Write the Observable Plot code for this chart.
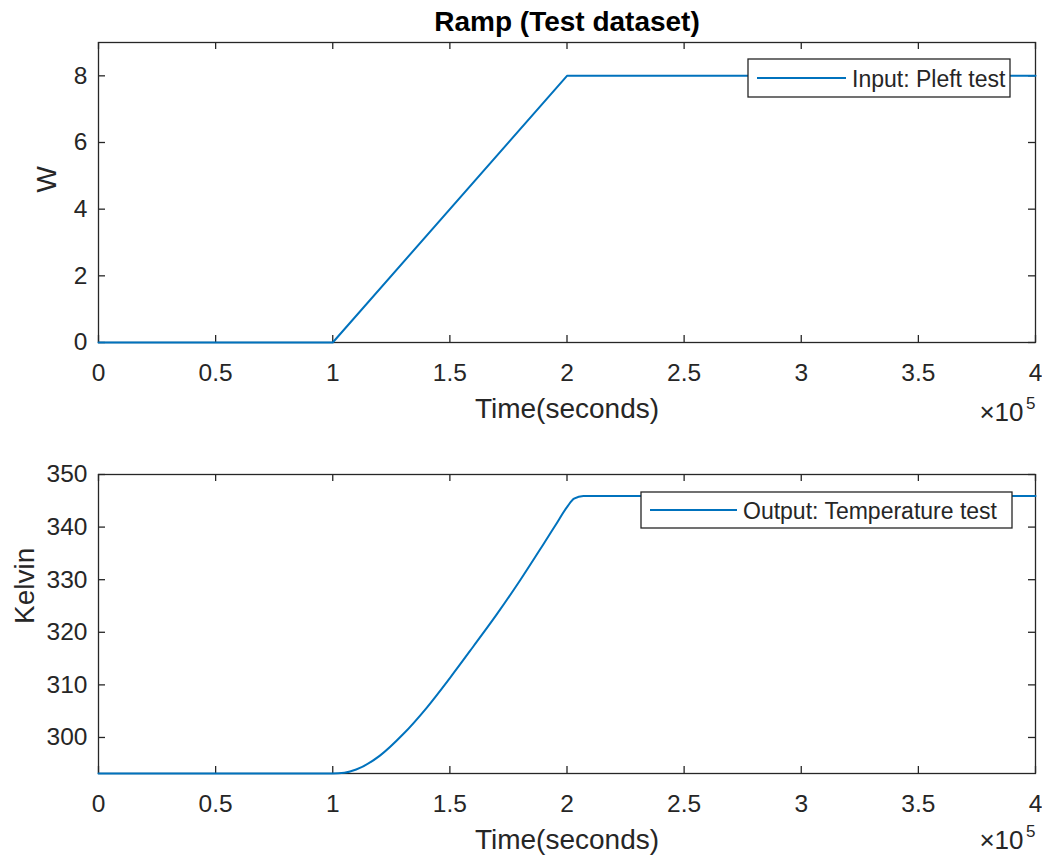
<!DOCTYPE html>
<html>
<head>
<meta charset="utf-8">
<script src="https://cdn.jsdelivr.net/npm/d3@7"></script>
<script src="https://cdn.jsdelivr.net/npm/@observablehq/plot@0.6"></script>
<style>
  body { margin: 0; background: #fff; }
  #fig { width: 1042px; height: 855px; background: #fff; }
  #fig svg { display: block; }
</style>
</head>
<body>
<div id="fig"></div>
<script>
// Shared time axis (seconds)
const timeTicks = [0, 50000, 100000, 150000, 200000, 250000, 300000, 350000, 400000];

// Input: Pleft test (W)
const inputTime = [0, 100000, 200000, 400000];
const inputPower = [0, 0, 8, 8];
const powerTicks = [0, 2, 4, 6, 8];

// Output: Temperature test (K)
const outputTime = [0, 100000, 105000, 110000, 120000, 130000, 140000, 150000, 160000,
                    170000, 180000, 190000, 195000, 200000, 203000, 207000, 400000];
const outputTemp = [293.15, 293.15, 293.3, 293.9, 296.5, 300.6, 305.6, 311.3, 317.3,
                    323.4, 329.9, 336.8, 340.3, 343.8, 345.4, 345.9, 345.9];
const tempTicks = [300, 310, 320, 330, 340, 350];

const ink = "#262626";
const blue = "#0072BD";
const font = "'Liberation Sans', Arial, Helvetica, sans-serif";
const W = 1042, ML = 98, MR = 7;

function panel({time, values, yDomain, yTicks, yLabel, yLabelDx, height, marginTop, marginBottom,
                title, legend, curve, expDy}) {
  const innerH = height - marginTop - marginBottom;
  const innerW = W - ML - MR;
  const data = time.map((t, i) => ({t, v: values[i]}));
  const marks = [
    Plot.frame({stroke: ink, strokeWidth: 1.3}),
    // inward ticks on all four sides
    Plot.tickX(timeTicks, {x: d => d, insetTop: innerH - 7, stroke: ink, strokeWidth: 1.3}),
    Plot.tickX(timeTicks, {x: d => d, insetBottom: innerH - 7, stroke: ink, strokeWidth: 1.3}),
    Plot.tickY(yTicks, {y: d => d, insetRight: innerW - 7, stroke: ink, strokeWidth: 1.3}),
    Plot.tickY(yTicks, {y: d => d, insetLeft: innerW - 7, stroke: ink, strokeWidth: 1.3}),
    Plot.axisX(timeTicks, {tickSize: 0, tickPadding: 21, tickFormat: d => String(d / 1e5),
                           label: null, fontSize: 24.5, color: ink}),
    Plot.axisY(yTicks, {tickSize: 0, tickPadding: 11, label: null, fontSize: 24.5, color: ink}),
    Plot.line(data, {x: "t", y: "v", stroke: blue, strokeWidth: 2, curve}),
    Plot.text(["Time(seconds)"], {frameAnchor: "bottom", lineAnchor: "bottom", dy: 75,
                                  fontSize: 28, fill: ink}),
    Plot.text([yLabel], {frameAnchor: "left", lineAnchor: "bottom", rotate: -90, dx: yLabelDx,
                         fontSize: 28, fill: ink}),
    Plot.text(["×10"], {frameAnchor: "bottom-right", textAnchor: "end", lineAnchor: "bottom",
                        dx: -12, dy: expDy, fontSize: 26, fill: ink}),
    Plot.text(["5"], {frameAnchor: "bottom-right", textAnchor: "end", lineAnchor: "bottom",
                      dx: 0, dy: expDy - 12, fontSize: 17, fill: ink})
  ];
  if (title) {
    marks.push(Plot.text([title], {frameAnchor: "top", lineAnchor: "bottom", dy: -12,
                                   fontSize: 28, fontWeight: "bold", fill: "#000"}));
  }
  const svg = Plot.plot({
    width: W, height, marginLeft: ML, marginRight: MR, marginTop, marginBottom,
    style: {fontFamily: font, fontSize: "24px", color: ink, background: "#fff"},
    x: {domain: [0, 400000]},
    y: {domain: yDomain},
    marks
  });

  // legend box (opaque, drawn above the line)
  const g = d3.select(svg).append("g").attr("font-family", font).attr("text-anchor", "start");
  g.append("rect").attr("x", legend.x).attr("y", legend.y).attr("width", legend.w).attr("height", legend.h)
    .attr("fill", "#fff").attr("stroke", ink).attr("stroke-width", 1.3);
  const ly = legend.y + legend.h / 2;
  g.append("line").attr("x1", legend.x + 9).attr("x2", legend.x + 9 + legend.lineLen)
    .attr("y1", ly).attr("y2", ly).attr("stroke", blue).attr("stroke-width", 2);
  g.append("text").attr("x", legend.x + 15 + legend.lineLen).attr("y", ly + 9)
    .attr("text-anchor", "start").attr("font-size", 23).attr("fill", ink).text(legend.text);
  return svg;
}

const fig = document.getElementById("fig");
fig.append(panel({
  time: inputTime, values: inputPower, yDomain: [0, 9], yTicks: powerTicks,
  yLabel: "W", yLabelDx: -43, height: 430, marginTop: 42, marginBottom: 88,
  title: "Ramp (Test dataset)", curve: "linear", expDy: 78,
  legend: {x: 748, y: 59, w: 262, h: 38, lineLen: 89, text: "Input: Pleft test"}
}));
fig.append(panel({
  time: outputTime, values: outputTemp, yDomain: [293.15, 350], yTicks: tempTicks,
  yLabel: "Kelvin", yLabelDx: -65, height: 425, marginTop: 44, marginBottom: 82,
  title: null, curve: "monotone-x", expDy: 75,
  legend: {x: 641, y: 62, w: 371, h: 36, lineLen: 87, text: "Output: Temperature test"}
}));
</script>
</body>
</html>
